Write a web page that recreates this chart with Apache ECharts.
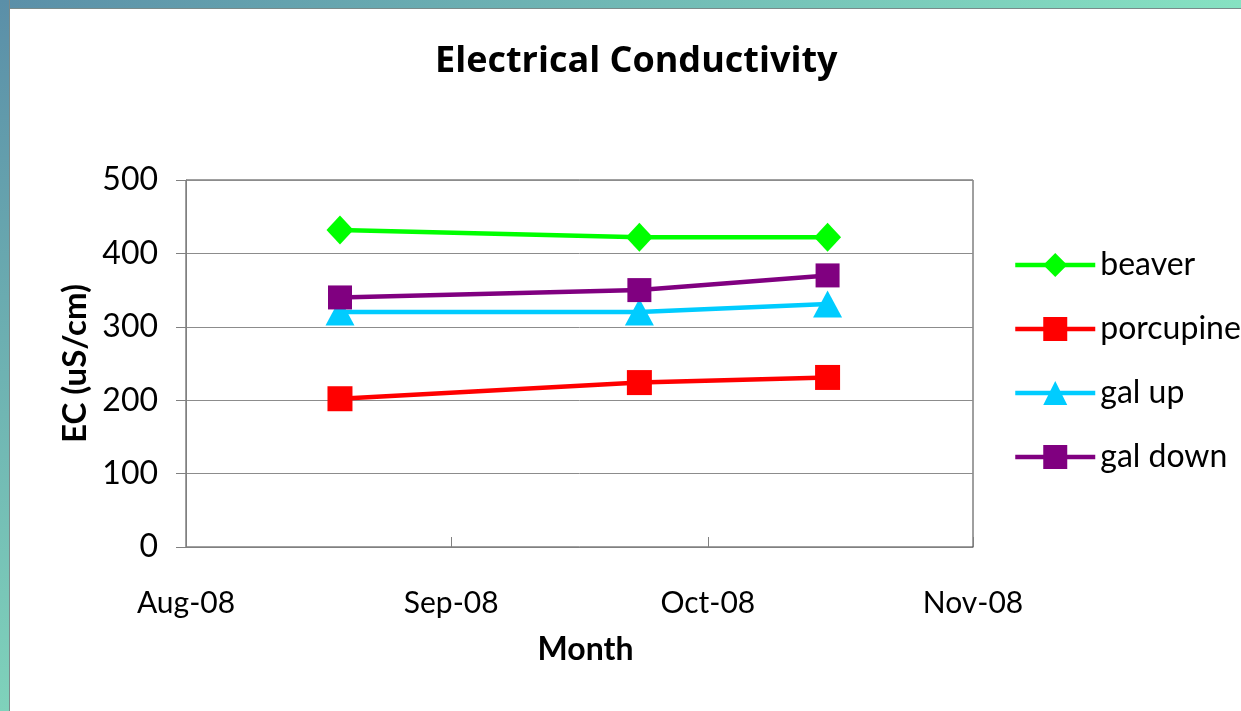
<!DOCTYPE html>
<html>
<head>
<meta charset="utf-8">
<script src="https://cdn.jsdelivr.net/npm/echarts@6/dist/echarts.min.js"></script>
<style>
  html, body { margin: 0; padding: 0; background: #fff; }
  .band-top {
    position: absolute; left: 0; top: 0; width: 1241px; height: 8px;
    background: linear-gradient(to right, #5b8fa8, #86e2c2);
    border-bottom: 1px solid #7a8a8a;
  }
  .band-left {
    position: absolute; left: 0; top: 0; width: 9px; height: 711px;
    background: linear-gradient(to bottom, #5b8fa8, #7fd2bb);
    border-right: 1px solid #7a8a8a;
  }
  #chart { position: absolute; left: 0; top: 0; width: 1241px; height: 711px; }
</style>
</head>
<body>
<div class="band-top"></div>
<div class="band-left"></div>
<div id="chart"></div>
<script>
const dates = ["2008-08-19", "2008-09-23", "2008-10-15"];
const beaver = [432, 422, 422];
const porcupine = [202, 224, 231];
const galUp = [320, 320, 331];
const galDown = [340, 350, 370];

const font = "Lato";

function pairs(vals) {
  return dates.map((d, i) => [d, vals[i]]);
}

function lineSeries(name, vals, color, symbol, size) {
  return {
    name,
    type: "line",
    data: pairs(vals),
    symbol,
    symbolSize: size,
    lineStyle: { color, width: 4.5 },
    itemStyle: { color },
    emphasis: { disabled: true }
  };
}

const chart = echarts.init(document.getElementById("chart"));
chart.setOption({
  animation: false,
  title: {
    text: "Electrical Conductivity",
    left: 430,
    top: 39,
    textStyle: { fontFamily: "Open Sans", fontSize: 36, fontWeight: "bold", color: "#000" }
  },
  legend: {
    orient: "vertical",
    left: 1013,
    top: 249,
    padding: 0,
    itemWidth: 80,
    itemHeight: 30,
    itemGap: 32,
    lineStyle: { width: 4.5 },
    textStyle: { fontFamily: font, fontSize: 32, color: "#000" },
    data: ["beaver", "porcupine", "gal up", "gal down"]
  },
  grid: {
    left: 186,
    top: 180,
    right: 268,
    bottom: 164,
    show: true,
    borderColor: "#404040",
    borderWidth: 1
  },
  xAxis: {
    type: "time",
    min: "2008-08-01",
    max: "2008-11-01",
    minInterval: 28 * 86400000,
    maxInterval: 31 * 86400000,
    name: "Month",
    nameLocation: "middle",
    nameGap: 87,
    nameTextStyle: { fontFamily: font, fontSize: 32, fontWeight: "bold", color: "#000", padding: [0, 0, 0, 12] },
    axisLine: { lineStyle: { color: "#808080", width: 1 } },
    axisTick: { inside: true, length: 10, lineStyle: { color: "#808080" } },
    axisLabel: {
      formatter: "{MMM}-{yy}",
      margin: 41,
      showMinLabel: true,
      showMaxLabel: true,
      fontFamily: font,
      fontSize: 30,
      color: "#000"
    },
    splitLine: { show: false }
  },
  yAxis: {
    type: "value",
    min: 0,
    max: 500,
    interval: 100,
    name: "EC (uS/cm)",
    nameLocation: "middle",
    nameGap: 90,
    nameTextStyle: { fontFamily: font, fontSize: 33, fontWeight: "bold", color: "#000" },
    axisLine: { show: true, lineStyle: { color: "#808080", width: 1 } },
    axisTick: { show: true, length: 10, lineStyle: { color: "#808080" } },
    axisLabel: { margin: 28, fontFamily: font, fontSize: 32, color: "#000" },
    splitLine: { lineStyle: { color: "#8c8c8c", width: 1 } }
  },
  series: [
    lineSeries("beaver", beaver, "#00ff00", "diamond", [27, 29]),
    lineSeries("porcupine", porcupine, "#ff0000", "rect", 25),
    lineSeries("gal up", galUp, "#00ccff", "triangle", [29, 27]),
    lineSeries("gal down", galDown, "#800080", "rect", 24)
  ]
});
</script>
</body>
</html>
